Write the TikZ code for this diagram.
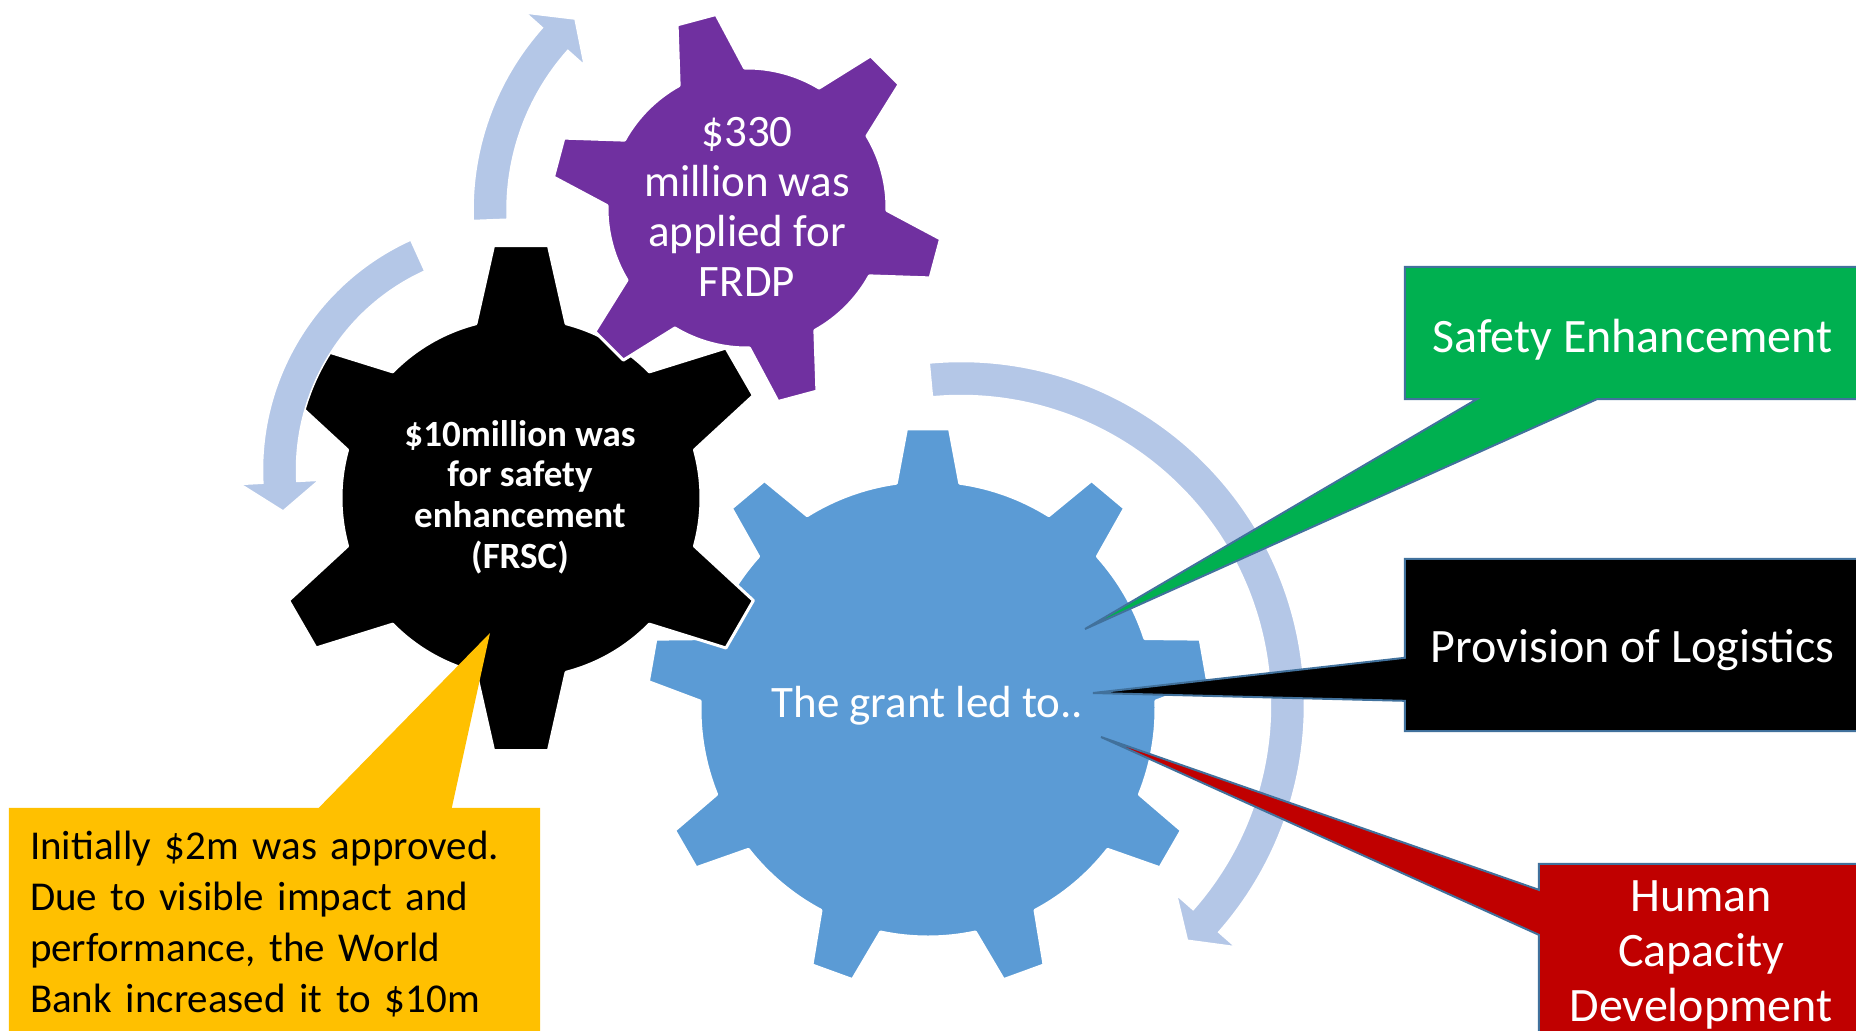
\documentclass[tikz,border=0pt]{standalone}
\usepackage{fontspec}
\setmainfont{Carlito}
\usepackage{tikz}
\usetikzlibrary{backgrounds,calc}
\definecolor{gearblue}{HTML}{5B9BD5}
\definecolor{gearpurple}{HTML}{7030A0}
\definecolor{ringblue}{HTML}{B4C7E7}
\definecolor{safegreen}{HTML}{00B050}
\definecolor{humanred}{HTML}{C00000}
\definecolor{noteyellow}{HTML}{FFC000}
\definecolor{calloutedge}{HTML}{41719C}
\newcommand{\gearshape}[8]{%
  \filldraw[#1,shift={(#2)}] (#4-#7:#5)
    \foreach \k [evaluate=\k as \a using #4+(\k-1)*360/#3] in {1,...,#3}{
      -- (\a-#7:#5) -- (\a-#8:#6) -- (\a+#8:#6) -- (\a+#7:#5)
      arc[start angle=\a+#7,end angle=\a+360/#3-#7,radius=#5]} -- cycle;
}
\newcommand{\ringarrow}[5]{%
  \filldraw[ringblue,draw=white,line width=1.5pt,shift={(#1)}] (#3:{#2+17}) arc[start angle=#3,end angle=#4,radius=#2+17]
    -- (#4:{#2+39}) -- (#5:#2) -- (#4:{#2-39}) -- (#4:{#2-17})
    arc[start angle=#4,end angle=#3,radius=#2-17] -- cycle;
}

\begin{document}
\begin{tikzpicture}[x=1pt,y=-1pt,
  geartext/.style={text=white,align=center,font=\fontsize{45pt}{50pt}\selectfont},
  callbox/.style={inner sep=0pt,text=white,font=\fontsize{48pt}{56pt}\selectfont},
  calloutshape/.style={draw=calloutedge,line width=2pt,line join=miter},
  gearedge/.style={draw=white,line width=3pt,line join=round}]
\useasboundingbox (0,0) rectangle (1856,1031);
\coordinate (bluehub) at (928,709);
\coordinate (blackhub) at (521,498);
\coordinate (purplehub) at (747,208);
\coordinate (frdpring) at (747,210);
\coordinate (frscring) at (515,470);
\coordinate (grantring) at (961,705);
\node[geartext] (frdp) at (747,206.5) {\$330\\million was\\applied for\\FRDP};
\node[geartext,font=\bfseries\fontsize{37pt}{40.6pt}\selectfont] (frsc) at (520,497) {\$10million was\\for safety\\enhancement\\(FRSC)};
\node[geartext,anchor=base] (grant) at (927.5,717) {The grant led to..};
\node[callbox,minimum width=455pt,minimum height=132pt,text height=38pt,text depth=0pt] (safety) at (1632.5,333) {Safety Enhancement};
\node[callbox,minimum width=455pt,minimum height=172pt,text height=34pt,text depth=0pt] (logistics) at (1632.5,645) {Provision of Logistics};
\node[callbox,align=center,minimum width=324pt,minimum height=181pt,font=\fontsize{48pt}{55pt}\selectfont] (human) at (1701,954.5) {Human\\Capacity\\Development};
\node[callbox,text=black,align=left,text width=489pt,minimum width=531pt,minimum height=233pt,font=\fontsize{41pt}{51pt}\selectfont] (approved) at (274.5,924.5) {Initially \$2m was approved.\\Due to visible impact and\\performance, the World\\Bank increased it to \$10m};
\coordinate (safetytip) at (1085,629);
\coordinate (logisticstip) at (1093,693);
\coordinate (humantip) at (1101,737);
\coordinate (approvedtip) at (490,633);
\begin{scope}[on background layer]
\fill[white] (0,0) rectangle (1856,1031);
\gearshape{fill=gearblue,gearedge}{bluehub}{9}{-90}{228}{281}{8}{4.4}
\gearshape{fill=black,gearedge}{blackhub}{6}{-90}{180}{254}{14.5}{6.2}
\gearshape{fill=gearpurple,gearedge}{purplehub}{6}{15}{140}{196}{14}{5.9}
\ringarrow{frdpring}{257}{177.8}{221.7}{228}
\ringarrow{frscring}{235.5}{245.6}{177}{170}
\ringarrow{grantring}{326.5}{-95.3}{41.4}{46.1}
\filldraw[calloutshape,fill=safegreen] (safety.north west) -- (safety.north east) -- (safety.south east)
  -- ($(safety.south west)+(192,0)$) -- (safetytip) -- ($(safety.south west)+(72,0)$) -- (safety.south west) -- cycle;
\filldraw[calloutshape,fill=black] (logistics.north west) -- (logistics.north east) -- (logistics.south east) -- (logistics.south west)
  -- ($(logistics.north west)+(0,142)$) -- (logisticstip) -- ($(logistics.north west)+(0,99)$) -- cycle;
\filldraw[calloutshape,fill=humanred] (human.north west) -- (human.north east) -- (human.south east) -- (human.south west)
  -- ($(human.north west)+(0,71)$) -- (humantip) -- ($(human.north west)+(0,26)$) -- cycle;
\fill[noteyellow] (approved.south west) -- (approved.north west) -- ($(approved.north west)+(310,0)$) -- (approvedtip)
  -- ($(approved.north west)+(443,0)$) -- (approved.north east) -- (approved.south east) -- cycle;
\end{scope}
\end{tikzpicture}
\end{document}
